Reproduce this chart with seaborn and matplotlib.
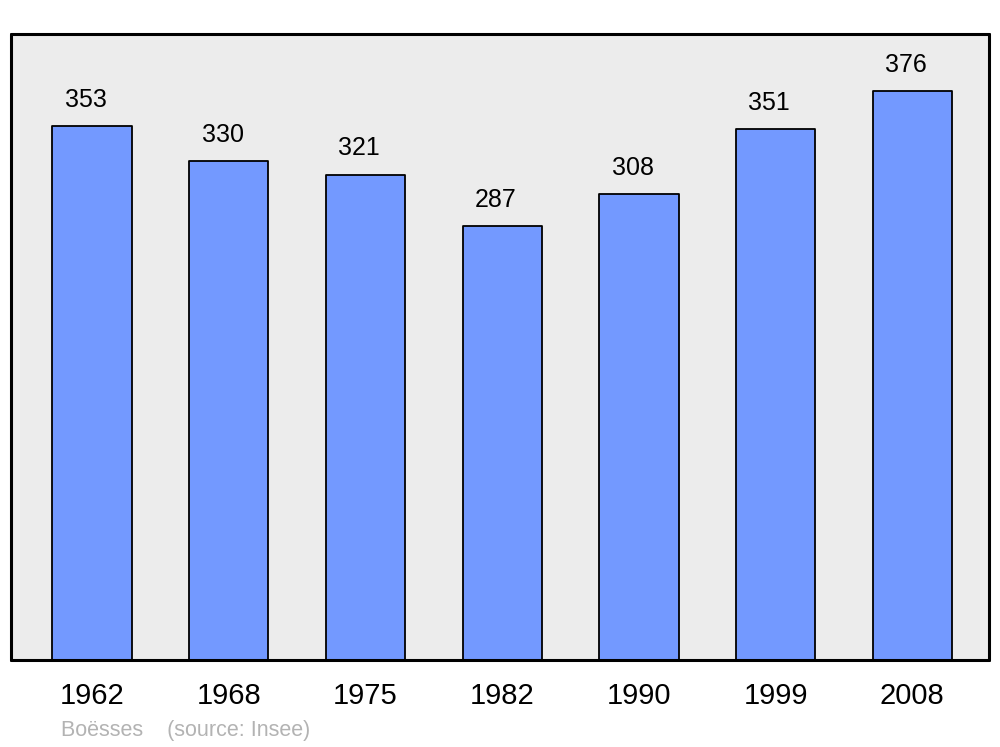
import matplotlib
matplotlib.use("Agg")
import matplotlib.pyplot as plt
import seaborn as sns
import pandas as pd

# Population data
years = ["1962", "1968", "1975", "1982", "1990", "1999", "2008"]
population = [353, 330, 321, 287, 308, 351, 376]
caption = "Boësses    (source: Insee)"

df = pd.DataFrame({"year": years, "pop": population})

sns.set_style("white")
plt.rcParams["font.family"] = ["Liberation Sans", "DejaVu Sans"]

fig = plt.figure(figsize=(10, 7.47), dpi=100)
ax = fig.add_axes([0.011, 0.1165, 0.978, 0.838])
ax.set_facecolor("#ececec")

sns.barplot(data=df, x="year", y="pop", order=years, color="#7399ff",
            saturation=1, width=0.58, edgecolor="black", linewidth=1.3, ax=ax)
for p in ax.patches:
    p.set_joinstyle("round")

# value labels above bars (slightly left of centre, as in the original)
for i, v in enumerate(population):
    ax.annotate(str(v), (i, v), xytext=(-4.5, 18.8), textcoords="offset points",
                ha="center", va="center", fontsize=18, color="black")

ax.set_xlim(-0.593, 6.561)
ax.set_ylim(0, 414)
ax.set_yticks([])
ax.set_xlabel("")
ax.set_ylabel("")
ax.tick_params(axis="x", length=0, pad=16, labelsize=21, labelcolor="black")
for lbl in ax.get_xticklabels():
    lbl.set_x(lbl.get_position()[0])
for s in ax.spines.values():
    s.set_visible(True)
    s.set_linewidth(2.2)
    s.set_color("black")
    s.set_joinstyle("round")
    s.set_capstyle("round")

fig.text(0.061, 0.0145, caption, fontsize=15.5, color="#b3b3b3", ha="left", va="baseline")

fig.savefig("out.png", dpi=100)
